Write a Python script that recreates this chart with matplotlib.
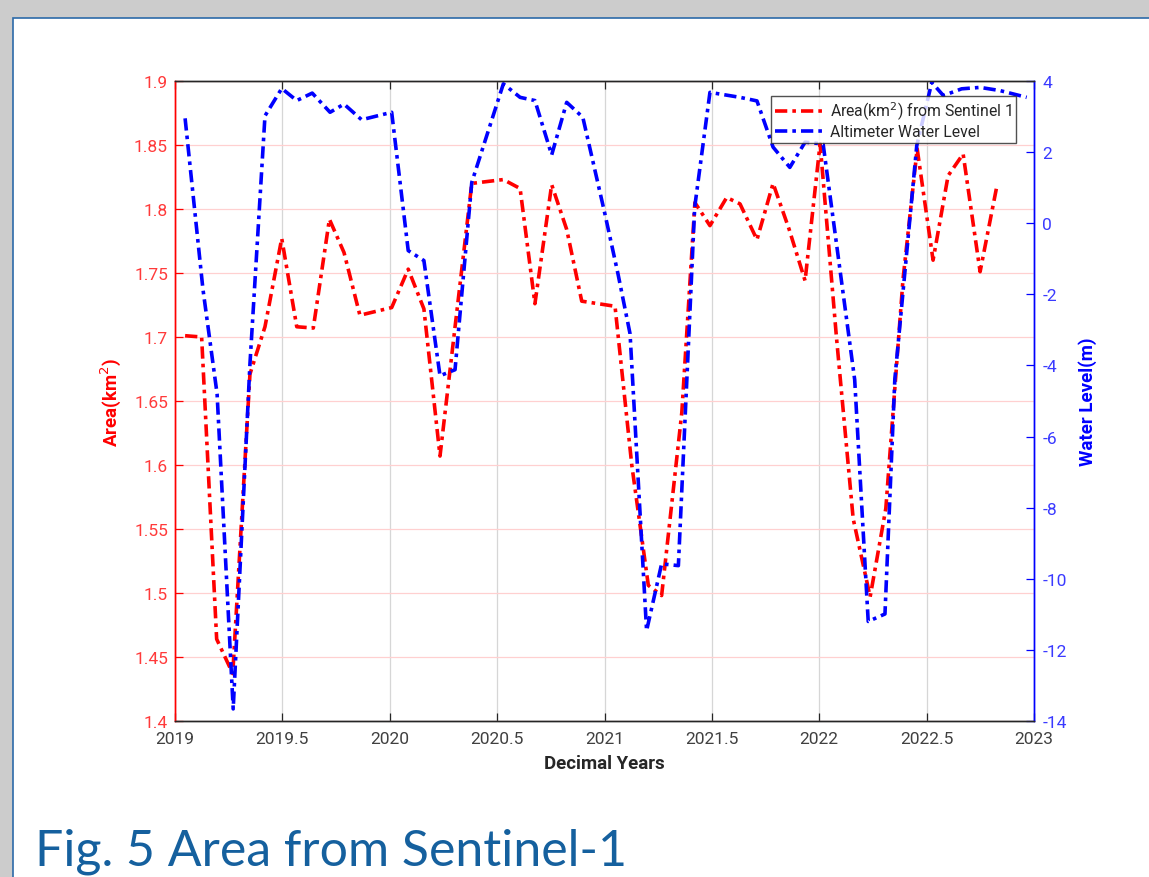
import numpy as np
import matplotlib.pyplot as plt
from matplotlib.patches import Rectangle


# --- data ---
area_years = [2019.047, 2019.124, 2019.194, 2019.269, 2019.349, 2019.419, 2019.497,
              2019.567, 2019.644, 2019.719, 2019.787, 2019.861, 2020.009, 2020.086,
              2020.159, 2020.234, 2020.382, 2020.529, 2020.607, 2020.676, 2020.754,
              2020.824, 2020.894, 2021.049, 2021.127, 2021.204, 2021.266, 2021.360,
              2021.421, 2021.491, 2021.569, 2021.631, 2021.710, 2021.785, 2021.860,
              2021.934, 2022.004, 2022.080, 2022.158, 2022.228, 2022.237, 2022.310,
              2022.390, 2022.456, 2022.530, 2022.600, 2022.670, 2022.749, 2022.826]
area_km2 = [1.701, 1.700, 1.464, 1.437, 1.671, 1.708, 1.777,
            1.708, 1.707, 1.792, 1.766, 1.717, 1.723, 1.753,
            1.722, 1.607, 1.820, 1.823, 1.816, 1.726, 1.819,
            1.784, 1.728, 1.724, 1.600, 1.506, 1.498, 1.641,
            1.805, 1.787, 1.809, 1.804, 1.776, 1.820, 1.784,
            1.744, 1.851, 1.700, 1.558, 1.504, 1.497, 1.566,
            1.745, 1.847, 1.760, 1.826, 1.843, 1.751, 1.817]

wl_years = [2019.047, 2019.130, 2019.196, 2019.271, 2019.349, 2019.419, 2019.497,
            2019.567, 2019.639, 2019.722, 2019.787, 2019.869, 2020.009, 2020.086,
            2020.159, 2020.234, 2020.304, 2020.382, 2020.529, 2020.607, 2020.676,
            2020.754, 2020.824, 2020.899, 2021.002, 2021.063, 2021.119, 2021.196,
            2021.266, 2021.344, 2021.420, 2021.491, 2021.631, 2021.710, 2021.785,
            2021.863, 2021.934, 2022.018, 2022.165, 2022.228, 2022.306, 2022.352,
            2022.454, 2022.524, 2022.578, 2022.663, 2022.749, 2022.842, 2022.966]
wl_m = [2.95, -1.85, -4.8, -13.66, -3.96, 3.02, 3.79,
        3.45, 3.66, 3.12, 3.35, 2.91, 3.12, -0.77,
        -1.05, -4.29, -4.12, 1.15, 3.92, 3.54, 3.45,
        1.92, 3.40, 2.98, 0.26, -1.43, -3.11, -11.46,
        -9.58, -9.63, 0.45, 3.68, 3.54, 3.44, 2.14,
        1.57, 2.28, 2.23, -4.4, -11.2, -10.99, -4.38,
        2.18, 3.96, 3.59, 3.78, 3.82, 3.73, 3.54]

x_ticks = [2019, 2019.5, 2020, 2020.5, 2021, 2021.5, 2022, 2022.5, 2023]
x_ticklabels = ['2019', '2019.5', '2020', '2020.5', '2021', '2021.5', '2022', '2022.5', '2023']
area_ticks = [1.4, 1.45, 1.5, 1.55, 1.6, 1.65, 1.7, 1.75, 1.8, 1.85, 1.9]
wl_ticks = [-14, -12, -10, -8, -6, -4, -2, 0, 2, 4]

plt.rcParams['font.family'] = ['Roboto', 'DejaVu Sans']
plt.rcParams['axes.unicode_minus'] = False

W, H = 1149, 878
fig = plt.figure(figsize=(W / 100, H / 100), dpi=100)
fig.patch.set_facecolor('#cccccc')

# white slide panel with thin blue border
fig.patches.append(Rectangle((13 / W, -0.01), 1.0, 1 - 19 / H + 0.01,
                             transform=fig.transFigure, facecolor='white',
                             edgecolor='#2c6aa8', linewidth=1.2, zorder=-1))

ax = fig.add_axes([175 / W, 1 - 722 / H, (1034 - 175) / W, (722 - 82) / H])
ax2 = ax.twinx()

dash = (0, (3.4, 1.4, 1.0, 1.4))
l1, = ax.plot(area_years, area_km2, color='#ff0000', lw=2.6, linestyle=dash,
              label='Area(km$^2$) from Sentinel 1')
l2, = ax2.plot(wl_years, wl_m, color='#0000ff', lw=2.6, linestyle=dash,
               label='Altimeter Water Level')

ax.set_xlim(2019, 2023)
ax.set_ylim(1.4, 1.9)
ax2.set_ylim(-14, 4)

ax.set_xticks(x_ticks)
ax.set_xticklabels(x_ticklabels)
ax.set_yticks(area_ticks)
ax.set_yticklabels([f'{v:g}' for v in area_ticks])
ax2.set_yticks(wl_ticks)

# grids: grey vertical, pink horizontal
ax.xaxis.grid(True, color='#d6d6d6', lw=0.9)
ax.yaxis.grid(True, color='#ffd0d0', lw=0.9)
ax.set_axisbelow(True)

ax.tick_params(axis='x', direction='in', top=True, length=6, width=0.9,
               colors='#262626', labelcolor='#404040', labelsize=12.5, pad=7)
ax.tick_params(axis='y', direction='in', length=6, width=0.9, colors='#ff0000',
               labelcolor='#ff3a3a', labelsize=12.5, pad=5)
ax2.tick_params(axis='y', direction='in', length=6, width=0.9, colors='#0000ff',
                labelcolor='#3a3aff', labelsize=12.5, pad=6)

for a in (ax, ax2):
    a.spines['top'].set_color('#262626')
    a.spines['bottom'].set_color('#262626')
    a.spines['left'].set_color('#ff0000')
    a.spines['right'].set_color('#0000ff')
    for s in a.spines.values():
        s.set_linewidth(1.0)

ax.set_xlabel('Decimal Years', fontsize=13.5, fontweight='bold', color='#262626', labelpad=6)
ax.set_ylabel('Area(km$^2$)', fontsize=13.5, fontweight='bold', color='#ff0000', labelpad=8)
ax2.set_ylabel('Water Level(m)', fontsize=13.5, fontweight='bold', color='#0000ff', labelpad=8)

leg = ax2.legend(handles=[l1, l2], loc='upper right', bbox_to_anchor=(0.979, 0.977),
                 borderaxespad=0, fontsize=11.3, frameon=True, fancybox=False,
                 handlelength=3.25, handletextpad=0.25, borderpad=0.25, labelspacing=0.15)
leg.get_frame().set_edgecolor('#262626')
leg.get_frame().set_linewidth(1.0)
for t in leg.get_texts():
    t.set_color('#262626')

fig.text(35 / W, 1 - 866 / H, 'Fig. 5 Area from Sentinel-1', fontsize=36,
         color='#15609e', family=['Lato', 'DejaVu Sans'], va='baseline', ha='left')

fig.savefig('out.png', dpi=100, facecolor=fig.get_facecolor())
